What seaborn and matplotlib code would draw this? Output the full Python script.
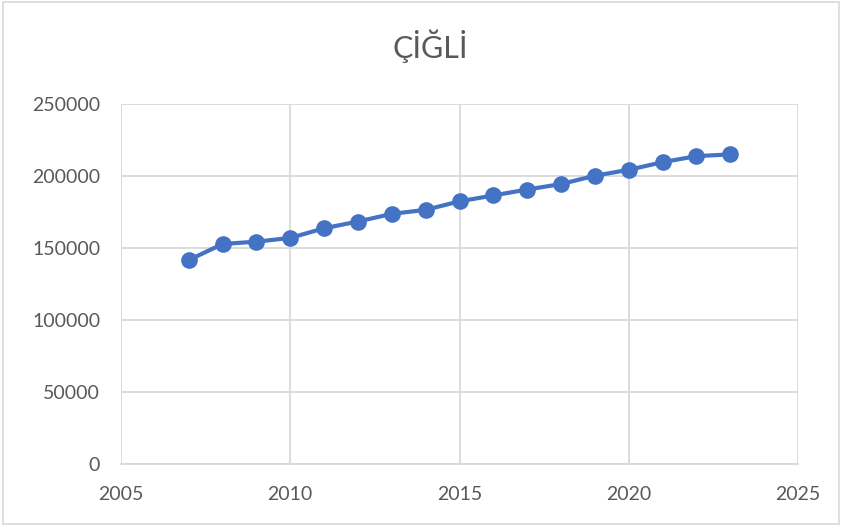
import numpy as np
import pandas as pd
import seaborn as sns
import matplotlib.pyplot as plt
from matplotlib.patches import Rectangle


## DATA
years = [2007, 2008, 2009, 2010, 2011, 2012, 2013, 2014, 2015,
         2016, 2017, 2018, 2019, 2020, 2021, 2022, 2023]
population = [141600, 152800, 154400, 157000, 163700, 168400, 173700, 176500, 182400,
              186500, 190600, 194400, 200200, 204300, 209600, 213800, 215000]
df = pd.DataFrame({'Yil': years, 'Nufus': population})


## STYLE
sns.set_style('white')
plt.rcParams['font.family'] = ['Lato', 'DejaVu Sans']

grid_col = '#D9D9D9'
text_col = '#595959'
line_col = '#4472C4'


## PLOT
fig = plt.figure(figsize=(8.42, 5.26), dpi=100)
ax = fig.add_axes([121/842, 62/526, 677/842, 360/526])

sns.lineplot(data=df, x='Yil', y='Nufus', ax=ax, color=line_col, linewidth=3,
             marker='o', markersize=12, markeredgewidth=0, zorder=3)

ax.set_xlim(2005, 2025)
ax.set_ylim(0, 250000)
ax.set_xticks(range(2005, 2026, 5))
ax.set_yticks(range(0, 250001, 50000))
ax.grid(True, color=grid_col, linewidth=1.3)
for s in ['top', 'right', 'left']:
    ax.spines[s].set_visible(False)
ax.spines['bottom'].set_color(grid_col)
ax.spines['bottom'].set_linewidth(1.3)
ax.tick_params(length=0, labelsize=14, colors=text_col)
ax.tick_params(axis='y', pad=15)
ax.tick_params(axis='x', pad=16)
ax.set_xlabel('')
ax.set_ylabel('')

fig.text(430/842, 1 - 58/526, 'ÇİĞLİ', ha='center', va='baseline', fontsize=22,
         color=text_col)

# outer chart border
fig.patches.append(Rectangle((0.004, 0.004), 0.992, 0.992, transform=fig.transFigure,
                             fill=False, edgecolor=grid_col, linewidth=1.2))

plt.savefig('out.png', dpi=100)
